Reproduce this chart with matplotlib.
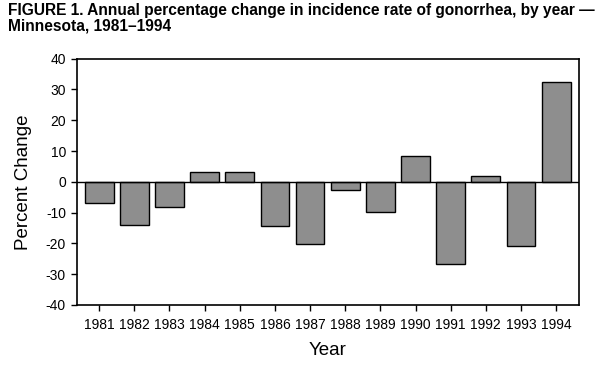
import matplotlib
matplotlib.use("Agg")
import matplotlib.pyplot as plt

years = ["1981", "1982", "1983", "1984", "1985", "1986", "1987",
         "1988", "1989", "1990", "1991", "1992", "1993", "1994"]
pct_change = [-7.0, -14.0, -8.3, 3.1, 3.1, -14.5, -20.2,
              -2.8, -9.9, 8.3, -26.8, 1.8, -20.9, 32.3]
y_ticks = [40, 30, 20, 10, 0, -10, -20, -30, -40]

plt.rcParams['font.family'] = ['Liberation Sans', 'DejaVu Sans']

fig = plt.figure(figsize=(6.05, 3.73), dpi=100)
ax = fig.add_axes([77/605, 1-305/373, (579-77)/605, (305-58.7)/373])

x = list(range(len(years)))
ax.bar(x, pct_change, width=0.82, color='#8e8e8e', edgecolor='black', linewidth=1.0, zorder=2)
ax.axhline(0, color='black', linewidth=1.0, zorder=3)

ax.set_xlim(-0.63, 13.65)
ax.set_ylim(-40, 40)
ax.set_yticks(y_ticks)
ax.set_yticklabels([str(v) for v in y_ticks], fontsize=10)
ax.set_xticks(x)
ax.set_xticklabels(years, fontsize=10)
ax.tick_params(axis='both', direction='out', length=4.5, width=1.0, color='black')
ax.tick_params(axis='x', pad=5)
for s in ax.spines.values():
    s.set_linewidth(1.2)

ax.set_ylabel("Percent Change", fontsize=13.5, labelpad=10)
ax.set_xlabel("Year", fontsize=13.5, labelpad=7)

fig.text(8/605, 1-3/373, "FIGURE 1. Annual percentage change in incidence rate of gonorrhea, by year \u2014\nMinnesota, 1981\u20131994",
         fontsize=11.2, fontweight='bold', ha='left', va='top', linespacing=1.05)

fig.savefig("out.png", dpi=100)
